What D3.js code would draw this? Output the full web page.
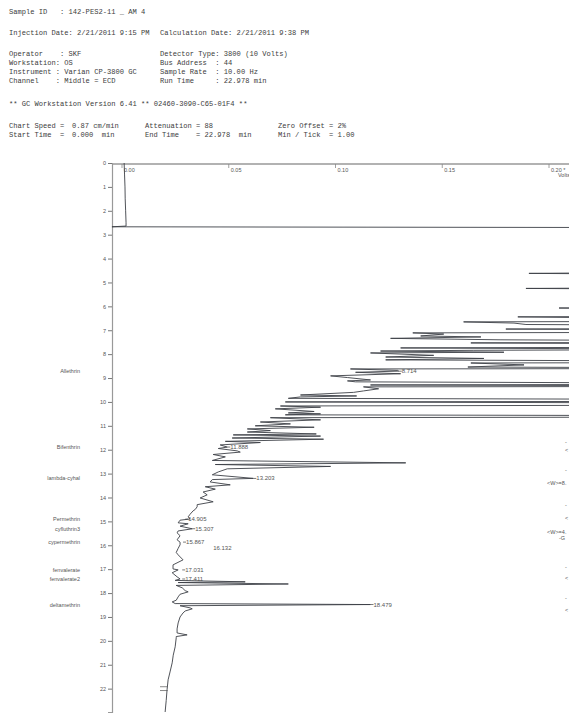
<!DOCTYPE html>
<html><head><meta charset="utf-8">
<script src="https://cdn.jsdelivr.net/npm/d3@7"></script>
<style>
html,body{margin:0;padding:0;background:#fff;}
svg{display:block;}
.mono{font-family:"Liberation Mono","DejaVu Sans Mono",monospace;font-size:7.1px;fill:#3d3d3d;}
.sans{font-family:"Liberation Sans",Arial,sans-serif;fill:#555;}
</style></head>
<body>
<svg id="c" width="569" height="713"></svg>
<script>
// ---------- header text (report printout) ----------
const headerLeft = [
  "Sample ID   : 142-PES2-11 _ AM 4",
  "Injection Date: 2/21/2011 9:15 PM",
  "Operator    : SKF",
  "Workstation: OS",
  "Instrument : Varian CP-3800 GC",
  "Channel    : Middle = ECD",
  "** GC Workstation Version 6.41 ** 02460-3090-C65-01F4 **",
  "Chart Speed =",
  "Start Time  ="
];
const headerMid = ["", "", "", "", "", "", "", "0.87 cm/min", "0.000  min"];
const headerRight = ["", "Calculation Date: 2/21/2011 9:38 PM",
  "Detector Type: 3800 (10 Volts)", "Bus Address  : 44",
  "Sample Rate  : 10.00 Hz", "Run Time     : 22.978 min", "",
  "Attenuation = 88", "End Time    = 22.978  min"];
const headerFar = ["", "", "", "", "", "", "", "Zero Offset = 2%", "Min / Tick  = 1.00"];

// ---------- axes ----------
const runTime = 22.978;                       // minutes
const timeTicks = d3.range(0, 23);            // 0..22 min
const voltTicks = [0.00, 0.05, 0.10, 0.15, 0.20];
const voltTickLabels = ["0.00", "0.05", "0.10", "0.15", "0.20 *"];
const voltUnit = "Volts";

// ---------- chromatogram trace : [time (min), signal (V)] ----------
const trace = [
 [0.00,0.0010],[0.50,0.0012],[1.00,0.0014],[1.50,0.0015],[2.00,0.0017],[2.50,0.0019],
 [2.64,0.0019],[2.67,-0.0047],[2.71,0.30],[4.55,0.30],[4.62,0.1906],[4.68,0.30],
 [5.20,0.30],[5.25,0.1892],[5.30,0.30],[6.05,0.30],[6.07,0.2047],[6.10,0.30],
 [6.40,0.30],[6.44,0.1854],[6.55,0.30],[6.62,0.30],[6.65,0.1600],[6.70,0.1836],
 [6.76,0.1892],[6.80,0.30],[6.92,0.30],[6.95,0.1798],[7.00,0.30],[7.08,0.30],
 [7.11,0.1362],[7.16,0.1507],[7.24,0.1399],[7.28,0.1681],[7.34,0.1258],[7.40,0.1775],
 [7.45,0.30],[7.50,0.30],[7.53,0.1634],[7.58,0.30],[7.70,0.30],[7.74,0.1305],
 [7.80,0.30],[7.84,0.1648],[7.87,0.1211],[7.92,0.1789],[7.95,0.1164],[8.05,0.1460],
 [8.12,0.1235],[8.18,0.1695],[8.24,0.1235],[8.30,0.30],[8.35,0.30],[8.37,0.1634],
 [8.45,0.1883],[8.54,0.1620],[8.58,0.30],[8.60,0.30],[8.62,0.1070],[8.68,0.1291],
 [8.71,0.1296],[8.76,0.1094],[8.82,0.1305],[8.91,0.0977],[8.98,0.1056],[9.08,0.1164],
 [9.12,0.1056],[9.16,0.1094],[9.22,0.30],[9.26,0.30],[9.29,0.1164],[9.33,0.30],
 [9.35,0.30],[9.37,0.1131],[9.45,0.1202],[9.54,0.1131],[9.60,0.1085],[9.71,0.0836],
 [9.75,0.1099],[9.79,0.0836],[9.85,0.0779],[9.90,0.30],[9.97,0.30],[10.00,0.0765],
 [10.05,0.30],[10.13,0.30],[10.17,0.0742],[10.22,0.0930],[10.29,0.0718],[10.40,0.0900],
 [10.46,0.0779],[10.50,0.0930],[10.54,0.0765],[10.58,0.30],[10.63,0.30],[10.66,0.0695],
 [10.75,0.0930],[10.84,0.0648],[10.92,0.0789],[11.00,0.0624],[11.06,0.0900],[11.13,0.0587],
 [11.20,0.0695],[11.26,0.0587],[11.34,0.0910],[11.38,0.0521],[11.43,0.0930],[11.51,0.0516],
 [11.56,0.0944],[11.65,0.0484],[11.70,0.0648],[11.80,0.0460],[11.89,0.0493],[11.95,0.0451],
 [12.05,0.0540],[12.10,0.0554],[12.20,0.0427],[12.30,0.0484],[12.45,0.0423],[12.55,0.1329],
 [12.62,0.0437],[12.70,0.0977],[12.80,0.0493],[12.93,0.0451],[13.05,0.0423],[13.20,0.0615],
 [13.25,0.0423],[13.35,0.0413],[13.47,0.0507],[13.55,0.0390],[13.65,0.0437],[13.77,0.0380],
 [13.89,0.0399],[14.02,0.0366],[14.18,0.0427],[14.30,0.0352],[14.39,0.0352],[14.50,0.0343],
 [14.56,0.0333],[14.70,0.0319],[14.81,0.0310],[14.90,0.0319],[14.95,0.0272],[15.06,0.0263],
 [15.10,0.0310],[15.20,0.0272],[15.31,0.0329],[15.40,0.0263],[15.48,0.0258],[15.60,0.0272],
 [15.77,0.0258],[15.87,0.0272],[15.98,0.0272],[16.13,0.0263],[16.30,0.0254],[16.40,0.0263],
 [16.61,0.0286],[16.82,0.0239],[16.99,0.0239],[17.03,0.0263],[17.15,0.0235],[17.32,0.0258],
 [17.41,0.0272],[17.47,0.0249],[17.53,0.0577],[17.56,0.0263],[17.62,0.0779],[17.68,0.0254],
 [17.78,0.0282],[17.90,0.0296],[17.95,0.0310],[18.05,0.0272],[18.16,0.0263],[18.30,0.0254],
 [18.37,0.0235],[18.44,0.0249],[18.48,0.1164],[18.53,0.0272],[18.62,0.0319],[18.66,0.0329],
 [18.75,0.0296],[18.83,0.0286],[19.00,0.0272],[19.25,0.0263],[19.50,0.0258],[19.67,0.0258],
 [19.75,0.0305],[19.82,0.0254],[19.87,0.0254],[20.25,0.0249],[20.60,0.0240],[20.92,0.0235],
 [21.30,0.0225],[21.63,0.0216],[22.05,0.0211],[22.50,0.0207],[22.978,0.0202]
];

// ---------- peak annotations ----------
const peakTimes  = [8.714, 11.888, 13.203, 14.905, 15.307, 15.867, 16.132, 17.031, 17.411, 18.479];
const peakLabels = ["8.714","11.888","13.203","14.905","15.307","15.867","16.132","17.031","17.411","18.479"];
const peakApex   = [0.1296, 0.0493, 0.0615, 0.0296, 0.0329, 0.0286, 0.0427, 0.0282, 0.0282, 0.1164];
const compoundNames = ["Allethrin","Bifenthrin","lambda-cyhal","Permethrin","cyfluthrin3",
                       "cypermethrin","fenvalerate","fenvalerate2","deltamethrin"];
const compoundTimes = [8.714, 11.888, 13.203, 14.905, 15.307, 15.867, 17.031, 17.411, 18.479];

// integration event marks printed at the right edge
const eventTimes = [11.67, 12.0, 12.85, 13.39, 14.31, 14.85, 15.44, 15.69, 16.9, 17.36, 18.2, 18.7];
const eventText  = ["-", "<", "-", "<W>=8.", "-", "<", "<W>=4.", "-G", "-", "<", "-", "<"];
const baselineMarks = [21.92, 22.08];

// ================= drawing =================
const svg = d3.select("#c");
const W = 569, H = 713;

const x = d3.scaleLinear().domain([0, 0.20]).range([122, 549]);
const y = d3.scaleLinear().domain([0, runTime]).range([163, 712]);

// header
const hy = [14, 35, 56, 65, 74, 83, 106, 128, 137];
const hg = svg.append("g").attr("class", "mono");
function htext(t, xx, yy) {
  hg.append("text").attr("xml:space", "preserve").attr("x", xx).attr("y", yy).text(t);
}
headerLeft.forEach((t, i) => htext(t, 9, hy[i]));
headerMid.forEach((t, i) => t && htext(t, 72, hy[i]));
headerRight.forEach((t, i) => t && htext(t, i >= 7 ? 145 : 160, hy[i]));
headerFar.forEach((t, i) => t && htext(t, 278, hy[i]));

// top volts axis
const axX = 112;
svg.append("line").attr("x1", axX).attr("x2", W).attr("y1", 164).attr("y2", 164)
  .attr("stroke", "#999").attr("stroke-width", 1.4);
const vt = svg.append("g").selectAll("g").data(voltTicks).join("g")
  .attr("transform", d => `translate(${x(d)},164)`);
vt.append("line").attr("y1", 0).attr("y2", 4).attr("stroke", "#888").attr("stroke-width", 0.8);
vt.append("text").attr("class", "sans").attr("x", 2).attr("y", 7.5)
  .style("font-size", "5.5px").text((d, i) => voltTickLabels[i]);
svg.append("text").attr("class", "sans").attr("x", 558).attr("y", 177)
  .style("font-size", "5.5px").text(voltUnit);

// left time axis
const yAxis = d3.axisLeft(y).tickValues(timeTicks).tickSize(4).tickPadding(2).tickFormat(d3.format("d"));
const ya = svg.append("g").attr("transform", `translate(${axX},0)`).call(yAxis);
ya.select(".domain").attr("stroke", "#999").attr("stroke-width", 1.2);
ya.selectAll(".tick line").attr("stroke", "#777");
ya.selectAll(".tick text").attr("fill", "#555").style("font-size", "5.5px")
  .style("font-family", "Liberation Sans, Arial, sans-serif");

// trace
const line = d3.line().x(d => x(d[1])).y(d => y(d[0]));
svg.append("path").datum(trace).attr("d", line)
  .attr("fill", "none").attr("stroke", "#3c3f46").attr("stroke-width", 0.9)
  .attr("stroke-linejoin", "round");

// baseline marks near the end
svg.append("g").selectAll("line").data(baselineMarks).join("line")
  .attr("x1", x(0.0178)).attr("x2", x(0.0214))
  .attr("y1", d => y(d)).attr("y2", d => y(d)).attr("stroke", "#555").attr("stroke-width", 0.7);

// peak labels
const pl = svg.append("g");
peakTimes.forEach((t, i) => {
  const px = x(peakApex[i]);
  const lone = peakLabels[i] === "16.132";
  if (!lone) {
    pl.append("line").attr("x1", px).attr("x2", px + 3).attr("y1", y(t)).attr("y2", y(t))
      .attr("stroke", "#444").attr("stroke-width", 0.7);
  }
  pl.append("text").attr("class", "sans").attr("x", px + (lone ? 0 : 3))
    .attr("y", y(t) + 2).style("font-size", "6px").text(peakLabels[i]);
});

// compound names
svg.append("g").selectAll("text").data(compoundNames).join("text")
  .attr("class", "sans").attr("x", 80).attr("text-anchor", "end")
  .attr("y", (d, i) => y(compoundTimes[i]) + 2).style("font-size", "5.5px").text(d => d);

// event marks at right edge
svg.append("g").selectAll("text").data(eventText).join("text")
  .attr("class", "sans").attr("x", d => d.length > 2 ? 547 : (d === "-G" ? 559 : 565))
  .attr("y", (d, i) => y(eventTimes[i]) + 2).style("font-size", "5.5px").text(d => d);
</script>
</body></html>
